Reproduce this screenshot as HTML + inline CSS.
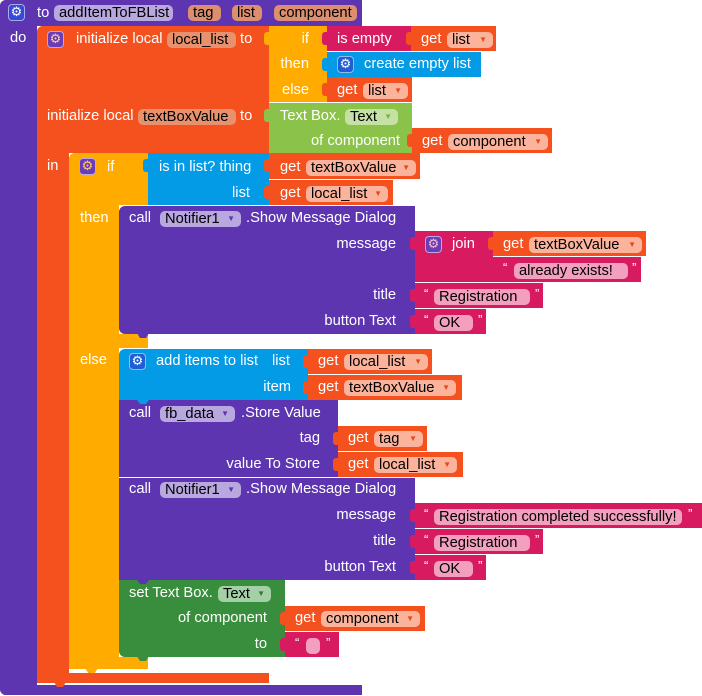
<!DOCTYPE html>
<html><head><meta charset="utf-8"><style>
html,body{margin:0;padding:0;background:#fff;width:702px;height:696px;overflow:hidden;position:relative;font-family:"Liberation Sans",Arial,sans-serif}
div,span{position:absolute;box-sizing:border-box}
.t{color:#fff;font-size:14.7px;line-height:18px;white-space:nowrap}
.p{height:16px;margin-top:2px;border-radius:5px;color:#000;font-size:14.7px;line-height:16px;white-space:nowrap;padding-left:5px}
.a{font-size:8px;right:6px;top:0;line-height:16px}
.g{width:17px;height:17px;border-radius:4px;border:1px solid rgba(255,255,255,.55);font-size:13px;line-height:15px;text-align:center;font-family:"DejaVu Sans",sans-serif}
.q{color:#fff;font-size:13px;line-height:14px}
.tab{width:6px;height:13px;border-radius:3px 0 0 3px}
.P{background:#5e35b1}.O{background:#f4511e}.Y{background:#ffab00}.M{background:#d81b60}.B{background:#039be5}.LG{background:#8bc34a}.DG{background:#388e3c}
.gp{background:#fcb39b}.tp{background:#f3a0be}.np{background:#b9a7e0}
</style></head><body>

<!-- procedure -->
<div class="P" style="left:0;top:0;width:362px;height:26px;border-radius:6px 0 0 0"></div>
<div class="P" style="left:0;top:0;width:37px;height:695px;border-radius:6px 0 0 6px"></div>
<div class="P" style="left:0;top:685px;width:362px;height:10px;border-radius:0 0 0 6px"></div>
<div class="g" style="left:8px;top:4px;background:#3848d8;color:#fff">⚙</div>
<div class="t" style="left:37px;top:4px">to</div>
<div class="p np" style="left:54px;top:3px;width:119px">addItemToFBList</div>
<div class="p" style="left:188px;top:3px;width:33px;background:#dc8e6f">tag</div>
<div class="p" style="left:232px;top:3px;width:30px;background:#dc8e6f">list</div>
<div class="p" style="left:274px;top:3px;width:83px;background:#dc8e6f">component</div>
<div class="t" style="left:10px;top:29px">do</div>

<!-- orange init -->
<div class="O" style="left:37px;top:26px;width:232px;height:127px;border-radius:6px 0 0 0"></div>
<div class="O" style="left:37px;top:26px;width:32px;height:657px;border-radius:6px 0 0 6px"></div>
<div class="O" style="left:37px;top:673px;width:232px;height:10px"></div>
<div class="O" style="left:54px;top:682px;width:12px;height:5px;clip-path:polygon(0 0,100% 0,75% 100%,25% 100%)"></div>
<div class="g" style="left:47px;top:31px;background:#6a3db8;color:#ffcc99">⚙</div>
<div class="t" style="left:76px;top:30px">initialize local</div>
<div class="p" style="left:167px;top:30px;width:69px;background:#e8916f">local_list</div>
<div class="t" style="left:240px;top:30px">to</div>
<div class="t" style="left:47px;top:107px">initialize local</div>
<div class="p" style="left:138px;top:107px;width:98px;background:#e8916f">textBoxValue</div>
<div class="t" style="left:240px;top:107px">to</div>
<div class="t" style="left:47px;top:157px">in</div>

<!-- top if-then-else -->
<div class="Y tab" style="left:264px;top:32px"></div>
<div class="Y" style="left:269px;top:26px;width:58px;height:76px"></div>
<div class="t" style="right:393px;top:30px">if</div>
<div class="t" style="right:393px;top:55px">then</div>
<div class="t" style="right:393px;top:81px">else</div>
<div class="M tab" style="left:322px;top:32px"></div>
<div class="M" style="left:327px;top:26px;width:84px;height:25px"></div>
<div class="t" style="left:337px;top:30px">is empty</div>
<div class="O tab" style="left:406px;top:32px"></div>
<div class="O" style="left:411px;top:26px;width:85px;height:25px"></div>
<div class="t" style="left:421px;top:30px">get</div>
<div class="p gp" style="left:447px;top:30px;width:46px">list<span class="a" style="color:#e64a19">▼</span></div>
<div class="B tab" style="left:322px;top:58px"></div>
<div class="B" style="left:327px;top:52px;width:154px;height:25px"></div>
<div class="g" style="left:337px;top:56px;background:#1f5fd6;color:#fff">⚙</div>
<div class="t" style="left:364px;top:55px">create empty list</div>
<div class="O tab" style="left:322px;top:83px"></div>
<div class="O" style="left:327px;top:77px;width:85px;height:25px"></div>
<div class="t" style="left:337px;top:81px">get</div>
<div class="p gp" style="left:363px;top:81px;width:45px">list<span class="a" style="color:#e64a19">▼</span></div>

<!-- Text Box getter -->
<div class="LG tab" style="left:264px;top:109px"></div>
<div class="LG" style="left:269px;top:103px;width:143px;height:50px"></div>
<div class="t" style="left:280px;top:107px">Text Box.</div>
<div class="p" style="left:345px;top:107px;width:53px;background:#c5e1a5">Text<span class="a" style="color:#7cb342">▼</span></div>
<div class="t" style="right:302px;top:132px">of component</div>
<div class="O tab" style="left:407px;top:134px"></div>
<div class="O" style="left:412px;top:128px;width:140px;height:25px"></div>
<div class="t" style="left:422px;top:132px">get</div>
<div class="p gp" style="left:448px;top:132px;width:100px">component<span class="a" style="color:#e64a19">▼</span></div>

<!-- yellow if-else -->
<div class="Y" style="left:69px;top:153px;width:79px;height:52px;border-radius:6px 0 0 0"></div>
<div class="Y" style="left:69px;top:153px;width:50px;height:516px;border-radius:6px 0 0 6px"></div>
<div class="Y" style="left:69px;top:334px;width:79px;height:14px"></div>
<div class="Y" style="left:69px;top:657px;width:79px;height:12px"></div>
<div class="Y" style="left:85px;top:668px;width:13px;height:5px;clip-path:polygon(0 0,100% 0,75% 100%,25% 100%)"></div>
<div class="g" style="left:79px;top:158px;background:#6a3db8;color:#ffcc66">⚙</div>
<div class="t" style="left:107px;top:158px">if</div>
<div class="t" style="left:80px;top:209px">then</div>
<div class="t" style="left:80px;top:351px">else</div>

<!-- is in list -->
<div class="B tab" style="left:143px;top:159px"></div>
<div class="B" style="left:148px;top:153px;width:121px;height:52px"></div>
<div class="t" style="left:159px;top:158px">is in list? thing</div>
<div class="t" style="right:452px;top:184px">list</div>
<div class="O tab" style="left:264px;top:159px"></div>
<div class="O" style="left:269px;top:153px;width:151px;height:26px"></div>
<div class="t" style="left:280px;top:158px">get</div>
<div class="p gp" style="left:306px;top:158px;width:110px">textBoxValue<span class="a" style="color:#e64a19">▼</span></div>
<div class="O tab" style="left:264px;top:186px"></div>
<div class="O" style="left:269px;top:180px;width:124px;height:25px"></div>
<div class="t" style="left:280px;top:184px">get</div>
<div class="p gp" style="left:306px;top:184px;width:82px">local_list<span class="a" style="color:#e64a19">▼</span></div>

<!-- then: Notifier call -->
<div class="P" style="left:119px;top:206px;width:296px;height:128px;border-radius:6px 0 0 6px"></div>
<div class="P" style="left:137px;top:333px;width:12px;height:5px;clip-path:polygon(0 0,100% 0,75% 100%,25% 100%)"></div>
<div class="t" style="left:129px;top:209px">call</div>
<div class="p np" style="left:160px;top:209px;width:81px">Notifier1<span class="a" style="color:#5e35b1">▼</span></div>
<div class="t" style="left:246px;top:209px">.Show Message Dialog</div>
<div class="t" style="right:306px;top:235px">message</div>
<div class="t" style="right:306px;top:286px">title</div>
<div class="t" style="right:306px;top:312px">button Text</div>

<div class="M tab" style="left:410px;top:237px"></div>
<div class="M" style="left:415px;top:231px;width:78px;height:51px"></div>
<div class="g" style="left:425px;top:236px;background:#6a3db8;color:#f8bbd0">⚙</div>
<div class="t" style="left:452px;top:235px">join</div>
<div class="O tab" style="left:488px;top:237px"></div>
<div class="O" style="left:493px;top:231px;width:153px;height:25px"></div>
<div class="t" style="left:503px;top:235px">get</div>
<div class="p gp" style="left:529px;top:235px;width:113px">textBoxValue<span class="a" style="color:#e64a19">▼</span></div>
<div class="M tab" style="left:488px;top:263px"></div>
<div class="M" style="left:493px;top:257px;width:148px;height:25px"></div>
<div class="q" style="left:503px;top:261px">“</div>
<div class="p tp" style="left:514px;top:261px;width:114px">already exists!</div>
<div class="q" style="left:632px;top:261px">”</div>
<div class="M tab" style="left:410px;top:289px"></div>
<div class="M" style="left:415px;top:283px;width:128px;height:25px"></div>
<div class="q" style="left:424px;top:287px">“</div>
<div class="p tp" style="left:434px;top:287px;width:96px">Registration</div>
<div class="q" style="left:535px;top:287px">”</div>
<div class="M tab" style="left:410px;top:315px"></div>
<div class="M" style="left:415px;top:309px;width:71px;height:25px"></div>
<div class="q" style="left:424px;top:313px">“</div>
<div class="p tp" style="left:434px;top:313px;width:39px">OK</div>
<div class="q" style="left:478px;top:313px">”</div>

<!-- else: add items -->
<div class="B" style="left:119px;top:349px;width:189px;height:51px;border-radius:6px 0 0 0"></div>
<div class="g" style="left:129px;top:353px;background:#1f5fd6;color:#fff">⚙</div>
<div class="t" style="left:156px;top:352px">add items to list</div>
<div class="t" style="left:272px;top:352px">list</div>
<div class="t" style="right:411px;top:378px">item</div>
<div class="O tab" style="left:303px;top:355px"></div>
<div class="O" style="left:308px;top:349px;width:124px;height:25px"></div>
<div class="t" style="left:318px;top:352px">get</div>
<div class="p gp" style="left:344px;top:352px;width:84px">local_list<span class="a" style="color:#e64a19">▼</span></div>
<div class="O tab" style="left:303px;top:381px"></div>
<div class="O" style="left:308px;top:375px;width:154px;height:25px"></div>
<div class="t" style="left:318px;top:378px">get</div>
<div class="p gp" style="left:344px;top:378px;width:112px">textBoxValue<span class="a" style="color:#e64a19">▼</span></div>

<!-- fb_data store -->
<div class="P" style="left:119px;top:400px;width:219px;height:77px"></div>
<div class="B" style="left:137px;top:400px;width:12px;height:4px;clip-path:polygon(0 0,100% 0,75% 100%,25% 100%)"></div>
<div class="t" style="left:129px;top:404px">call</div>
<div class="p np" style="left:160px;top:404px;width:75px">fb_data<span class="a" style="color:#5e35b1">▼</span></div>
<div class="t" style="left:241px;top:404px">.Store Value</div>
<div class="t" style="right:382px;top:429px">tag</div>
<div class="t" style="right:382px;top:455px">value To Store</div>
<div class="O tab" style="left:333px;top:432px"></div>
<div class="O" style="left:338px;top:426px;width:89px;height:25px"></div>
<div class="t" style="left:348px;top:429px">get</div>
<div class="p gp" style="left:374px;top:429px;width:49px">tag<span class="a" style="color:#e64a19">▼</span></div>
<div class="O tab" style="left:333px;top:458px"></div>
<div class="O" style="left:338px;top:452px;width:125px;height:25px"></div>
<div class="t" style="left:348px;top:455px">get</div>
<div class="p gp" style="left:374px;top:455px;width:83px">local_list<span class="a" style="color:#e64a19">▼</span></div>

<!-- Notifier 2 -->
<div class="P" style="left:119px;top:478px;width:296px;height:102px"></div>
<div class="t" style="left:129px;top:480px">call</div>
<div class="p np" style="left:160px;top:480px;width:81px">Notifier1<span class="a" style="color:#5e35b1">▼</span></div>
<div class="t" style="left:246px;top:480px">.Show Message Dialog</div>
<div class="t" style="right:306px;top:506px">message</div>
<div class="t" style="right:306px;top:532px">title</div>
<div class="t" style="right:306px;top:558px">button Text</div>
<div class="M tab" style="left:410px;top:509px"></div>
<div class="M" style="left:415px;top:503px;width:287px;height:25px"></div>
<div class="q" style="left:424px;top:507px">“</div>
<div class="p tp" style="left:434px;top:507px;width:248px">Registration completed successfully!</div>
<div class="q" style="left:688px;top:507px">”</div>
<div class="M tab" style="left:410px;top:535px"></div>
<div class="M" style="left:415px;top:529px;width:128px;height:25px"></div>
<div class="q" style="left:424px;top:533px">“</div>
<div class="p tp" style="left:434px;top:533px;width:96px">Registration</div>
<div class="q" style="left:535px;top:533px">”</div>
<div class="M tab" style="left:410px;top:561px"></div>
<div class="M" style="left:415px;top:555px;width:71px;height:25px"></div>
<div class="q" style="left:424px;top:559px">“</div>
<div class="p tp" style="left:434px;top:559px;width:39px">OK</div>
<div class="q" style="left:478px;top:559px">”</div>

<!-- set Text Box -->
<div class="DG" style="left:119px;top:580px;width:166px;height:77px;border-radius:0 0 0 6px"></div>
<div class="P" style="left:137px;top:580px;width:12px;height:4px;clip-path:polygon(0 0,100% 0,75% 100%,25% 100%)"></div>
<div class="DG" style="left:137px;top:656px;width:12px;height:5px;clip-path:polygon(0 0,100% 0,75% 100%,25% 100%)"></div>
<div class="t" style="left:129px;top:584px">set Text Box.</div>
<div class="p" style="left:218px;top:584px;width:53px;background:#a5d0a7">Text<span class="a" style="color:#2e7d32">▼</span></div>
<div class="t" style="right:435px;top:609px">of component</div>
<div class="t" style="right:435px;top:635px">to</div>
<div class="O tab" style="left:280px;top:612px"></div>
<div class="O" style="left:285px;top:606px;width:140px;height:25px"></div>
<div class="t" style="left:295px;top:609px">get</div>
<div class="p gp" style="left:321px;top:609px;width:99px">component<span class="a" style="color:#e64a19">▼</span></div>
<div class="M tab" style="left:280px;top:638px"></div>
<div class="M" style="left:285px;top:632px;width:54px;height:25px"></div>
<div class="q" style="left:295px;top:636px">“</div>
<div class="p tp" style="left:306px;top:636px;width:14px"></div>
<div class="q" style="left:326px;top:636px">”</div>

</body></html>
